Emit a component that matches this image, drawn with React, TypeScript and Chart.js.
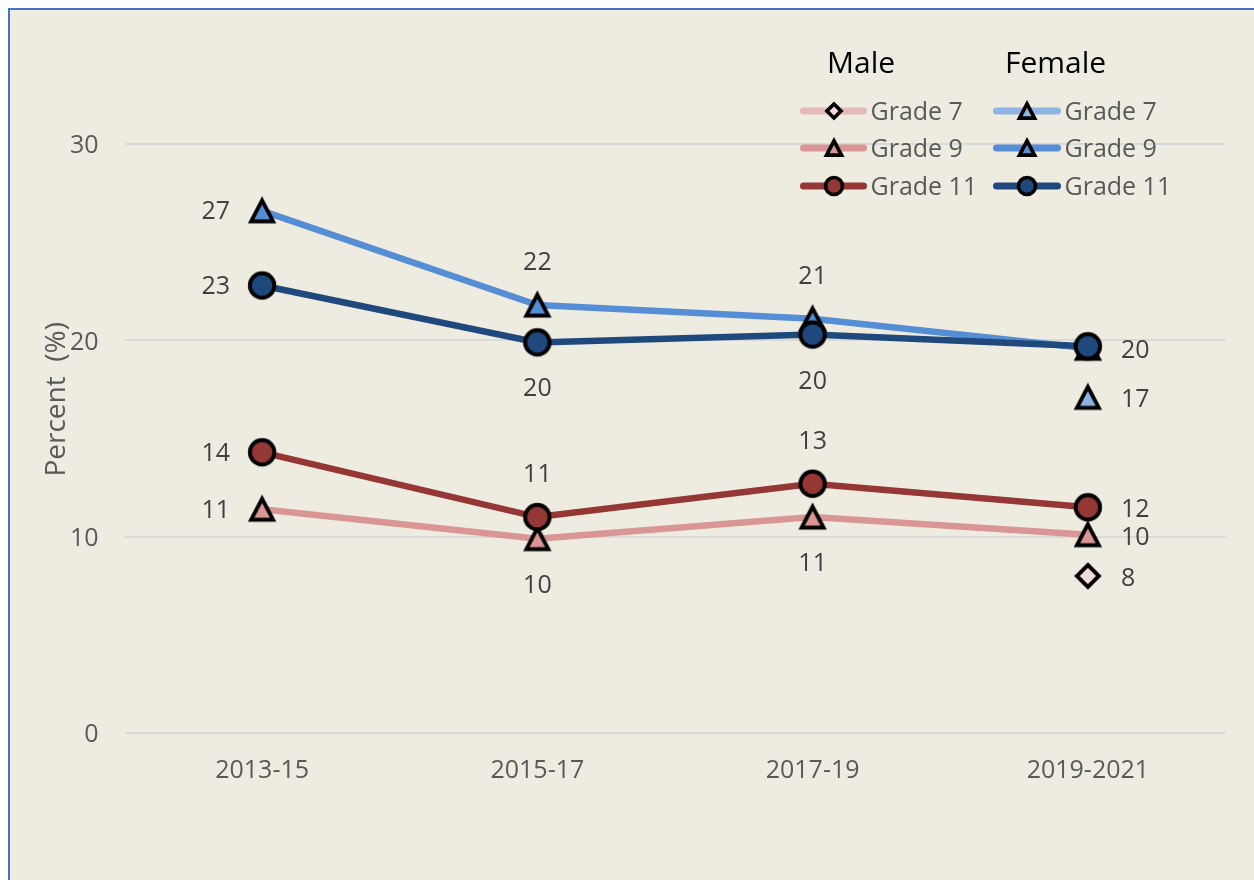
import React, { useEffect, useRef } from 'react';
import { Chart, registerables } from 'chart.js';

Chart.register(...registerables);

// ---------- data ----------
const categories = ['2013-15', '2015-17', '2017-19', '2019-2021'];

const maleGrade7 = [null, null, null, 8.0];
const maleGrade9 = [11.4, 9.9, 11.0, 10.1];
const maleGrade11 = [14.3, 11.0, 12.7, 11.5];
const femaleGrade7 = [null, null, null, 17.1];
const femaleGrade9 = [26.6, 21.8, 21.1, 19.6];
const femaleGrade11 = [22.8, 19.9, 20.3, 19.7];

const yTicks = [0, 10, 20, 30];

// data label placement per point
const maleGrade7Pos = [null, null, null, 'right'];
const maleGrade9Pos = ['left', 'below', 'below', 'right'];
const maleGrade11Pos = ['left', 'above', 'above', 'right'];
const femaleGrade7Pos = [null, null, null, 'right'];
const femaleGrade9Pos = ['left', 'above', 'above', 'right'];
const femaleGrade11Pos = ['left', 'below', 'below', null];

// ---------- styles ----------
const FONT = '"Open Sans", "DejaVu Sans", sans-serif';
const BG = '#EEECE1';

type MarkerStyle = 'circle' | 'triangle' | 'diamond';

interface SeriesDef {
  label: string;
  group: 'Male' | 'Female';
  data: (number | null)[];
  pos: (string | null)[];
  line: string;
  fill: string;
  marker: MarkerStyle;
  order: number;
}

const series: SeriesDef[] = [
  { label: 'Grade 7', group: 'Male', data: maleGrade7, pos: maleGrade7Pos, line: '#E6B9B8', fill: '#F2DCDB', marker: 'diamond', order: 2 },
  { label: 'Grade 9', group: 'Male', data: maleGrade9, pos: maleGrade9Pos, line: '#D99694', fill: '#D99694', marker: 'triangle', order: 1 },
  { label: 'Grade 11', group: 'Male', data: maleGrade11, pos: maleGrade11Pos, line: '#953735', fill: '#953735', marker: 'circle', order: 0 },
  { label: 'Grade 7', group: 'Female', data: femaleGrade7, pos: femaleGrade7Pos, line: '#8DB4E2', fill: '#8DB4E2', marker: 'triangle', order: 2 },
  { label: 'Grade 9', group: 'Female', data: femaleGrade9, pos: femaleGrade9Pos, line: '#558ED5', fill: '#558ED5', marker: 'triangle', order: 1 },
  { label: 'Grade 11', group: 'Female', data: femaleGrade11, pos: femaleGrade11Pos, line: '#1F497D', fill: '#1F497D', marker: 'circle', order: 0 },
];

function drawMarker(
  ctx: CanvasRenderingContext2D,
  style: MarkerStyle,
  cx: number,
  cy: number,
  size: number,
  fill: string,
  bw: number
) {
  ctx.save();
  ctx.beginPath();
  if (style === 'circle') {
    ctx.arc(cx, cy, size, 0, Math.PI * 2);
  } else if (style === 'triangle') {
    const a = size;
    const b = size * 0.95;
    ctx.moveTo(cx, cy - b);
    ctx.lineTo(cx + a, cy + b);
    ctx.lineTo(cx - a, cy + b);
    ctx.closePath();
  } else {
    ctx.moveTo(cx, cy - size);
    ctx.lineTo(cx + size, cy);
    ctx.lineTo(cx, cy + size);
    ctx.lineTo(cx - size, cy);
    ctx.closePath();
  }
  ctx.fillStyle = fill;
  ctx.fill();
  ctx.lineWidth = bw;
  ctx.lineJoin = 'miter';
  ctx.strokeStyle = '#000000';
  ctx.stroke();
  ctx.restore();
}

const markerSize: Record<MarkerStyle, number> = { circle: 12.25, triangle: 11, diamond: 11 };
const legendMarkerSize: Record<MarkerStyle, number> = { circle: 8.5, triangle: 7.5, diamond: 7 };

function makeMarkerCanvas(style: MarkerStyle, fill: string): HTMLCanvasElement {
  const c = document.createElement('canvas');
  c.width = 40;
  c.height = 40;
  const ctx = c.getContext('2d')!;
  drawMarker(ctx, style, 20, 20, markerSize[style], fill, 3.9);
  return c;
}

const pointLabelPlugin = {
  id: 'pointLabels',
  afterDatasetsDraw(chart: any) {
    const ctx: CanvasRenderingContext2D = chart.ctx;
    ctx.save();
    ctx.font = `25px ${FONT}`;
    ctx.fillStyle = '#404040';
    ctx.textBaseline = 'middle';
    chart.data.datasets.forEach((ds: any, i: number) => {
      const meta = chart.getDatasetMeta(i);
      meta.data.forEach((pt: any, j: number) => {
        const v = ds.data[j];
        const p = ds.labelPos[j];
        if (v == null || !p) return;
        const txt = String(Math.round(v));
        let x = pt.x;
        let y = pt.y;
        if (p === 'left') {
          ctx.textAlign = 'right';
          x = pt.x - 32;
          y = pt.y + 1.5;
        } else if (p === 'right') {
          ctx.textAlign = 'left';
          x = pt.x + 33;
          y = pt.y + 3;
        } else if (p === 'above') {
          ctx.textAlign = 'center';
          y = pt.y - 42;
        } else {
          ctx.textAlign = 'center';
          y = pt.y + 47;
        }
        ctx.fillText(txt, x, y);
      });
    });
    ctx.restore();
  },
};

const customLegendPlugin = {
  id: 'customLegend',
  afterDraw(chart: any) {
    const ctx: CanvasRenderingContext2D = chart.ctx;
    ctx.save();
    // group titles
    ctx.font = `30px ${FONT}`;
    ctx.fillStyle = '#000000';
    ctx.textBaseline = 'middle';
    ctx.textAlign = 'left';
    ctx.fillText('Male', 817, 54.8);
    ctx.fillText('Female', 995, 54.8);

    const cols = {
      Male: { x0: 793.5, x1: 853.5, mx: 824, tx: 860.5 },
      Female: { x0: 986.5, x1: 1047.5, mx: 1017, tx: 1054.5 },
    };
    const rowsY = [101, 138, 176];
    const counters: Record<string, number> = { Male: 0, Female: 0 };
    series.forEach((s) => {
      const c = cols[s.group];
      const y = rowsY[counters[s.group]++];
      ctx.beginPath();
      ctx.moveTo(c.x0, y);
      ctx.lineTo(c.x1, y);
      ctx.lineWidth = 7;
      ctx.lineCap = 'round';
      ctx.strokeStyle = s.line;
      ctx.stroke();
      drawMarker(ctx, s.marker, c.mx, y, legendMarkerSize[s.marker], s.fill, 3.7);
      ctx.font = `25px ${FONT}`;
      ctx.fillStyle = '#595959';
      ctx.textAlign = 'left';
      ctx.textBaseline = 'middle';
      ctx.fillText(s.label, c.tx, y + 1.5);
    });
    ctx.restore();
  },
};

export default function App() {
  const canvasRef = useRef<HTMLCanvasElement | null>(null);

  useEffect(() => {
    const canvas = canvasRef.current;
    if (!canvas) return;

    const datasets = series.map((s) => ({
      label: `${s.group} ${s.label}`,
      data: s.data,
      labelPos: s.pos,
      borderColor: s.line,
      backgroundColor: s.fill,
      borderWidth: 6.5,
      pointStyle: makeMarkerCanvas(s.marker, s.fill),
      pointRadius: 12,
      pointHoverRadius: 12,
      tension: 0,
      order: s.order,
      spanGaps: false,
    }));

    const chart = new Chart(canvas, {
      type: 'line',
      data: { labels: categories, datasets: datasets as any },
      options: {
        animation: false,
        responsive: false,
        devicePixelRatio: 1,
        layout: { padding: { top: 55.6, right: 28.5, left: 0, bottom: 0 } },
        plugins: {
          legend: { display: false },
          tooltip: { enabled: false },
        },
        scales: {
          x: {
            type: 'category',
            offset: true,
            grid: { display: false, drawTicks: false },
            border: { display: false },
            ticks: {
              color: '#595959',
              font: { family: FONT, size: 25 },
              padding: 23,
              maxRotation: 0,
              autoSkip: false,
            },
            afterFit: (scale: any) => {
              scale.height = 147;
            },
          },
          y: {
            type: 'linear',
            min: 0,
            max: 34,
            grid: { color: '#D9D9D9', lineWidth: 2, drawTicks: false },
            border: { display: false },
            ticks: {
              color: '#595959',
              font: { family: FONT, size: 25 },
              padding: 26,
              labelOffset: 2,
            },
            afterBuildTicks: (scale: any) => {
              scale.ticks = yTicks.map((v) => ({ value: v }));
            },
            title: {
              display: true,
              text: 'Percent  (%)',
              color: '#595959',
              font: { family: FONT, size: 28, lineHeight: 1.2 },
              padding: { top: 30, bottom: 0 },
            },
            afterFit: (scale: any) => {
              scale.width = 114.5;
            },
          },
        },
      },
      plugins: [pointLabelPlugin, customLegendPlugin],
    });

    return () => {
      chart.destroy();
    };
  }, []);

  return (
    <div
      style={{
        position: 'fixed',
        left: 8,
        top: 8,
        width: 1246,
        height: 872,
        boxSizing: 'border-box',
        background: BG,
        borderLeft: '2px solid #4472C4',
        borderTop: '2px solid #4472C4',
      }}
    >
      <canvas ref={canvasRef} width={1244} height={870} style={{ display: 'block', width: 1244, height: 870 }} />
    </div>
  );
}
